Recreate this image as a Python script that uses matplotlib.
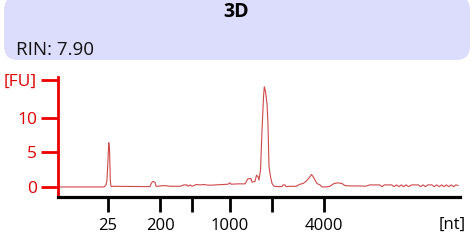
import matplotlib
matplotlib.use("Agg")
import matplotlib.pyplot as plt
from matplotlib.patches import FancyBboxPatch

plt.rcParams['font.family'] = ['Open Sans', 'DejaVu Sans']

title = "3D"
rin_text = "RIN: 7.90"

# migration time [s] and fluorescence [FU]
time = [19.0, 24.72, 24.97, 25.09, 25.22, 25.31, 25.41, 25.50, 25.59,
        30.44, 30.63, 30.82, 31.06, 31.19, 31.44, 31.69, 32.31, 32.93,
        33.55, 34.17, 34.67, 35.04, 35.17, 35.42, 35.67, 35.92, 36.16,
        36.66, 37.16, 37.41, 37.91, 38.65, 39.40, 40.14, 40.39, 40.52,
        41.39, 42.26, 42.63, 43.00, 43.13, 43.50, 43.69, 43.88, 44.00,
        44.19, 44.37, 44.56, 44.66, 44.81, 45.00, 45.12, 45.24, 45.43,
        45.62, 45.87, 46.36, 46.86, 46.99, 47.23, 47.36, 47.86, 48.60,
        49.10, 49.47, 49.85, 50.22, 50.53, 50.72, 50.97, 51.21, 51.59,
        51.84, 52.33, 52.83, 53.33, 53.83, 54.32, 54.70, 55.32, 56.56,
        57.18, 57.81, 59.0, 59.3, 59.6, 59.9, 60.5, 60.8, 61.1, 61.4,
        61.7, 62.0, 62.3, 62.6, 63.0, 63.3, 63.8, 64.1, 64.4, 64.7,
        65.0, 65.5, 65.8, 66.1, 66.4, 66.7, 67.0, 67.3, 67.6, 67.9,
        68.2, 68.5, 68.75]
fluor = [0.0, 0.0, 0.3, 1.0, 4.0, 6.4, 5.5, 1.0, 0.1,
         0.05, 0.6, 0.8, 0.7, 0.1, 0.1, 0.15, 0.2, 0.1,
         0.1, 0.1, 0.3, 0.3, 0.1, 0.3, 0.1, 0.2, 0.35,
         0.3, 0.35, 0.3, 0.25, 0.3, 0.35, 0.4, 0.6, 0.4,
         0.45, 0.45, 1.2, 1.2, 0.7, 0.8, 1.7, 1.5, 1.0,
         2.5, 8.0, 13.0, 14.5, 13.8, 12.0, 9.0, 3.0, 1.5,
         0.5, 0.1, 0.05, 0.05, 0.3, 0.3, 0.05, 0.1, 0.1,
         0.4, 0.5, 0.8, 1.3, 1.8, 1.5, 1.0, 0.5, 0.3,
         0.0, 0.0, 0.1, 0.5, 0.6, 0.5, 0.2, 0.15, 0.15,
         0.1, 0.3, 0.3, 0.05, 0.3, 0.3, 0.3, 0.05, 0.3, 0.05,
         0.3, 0.05, 0.3, 0.05, 0.3, 0.3, 0.3, 0.05, 0.3, 0.05,
         0.3, 0.3, 0.05, 0.3, 0.05, 0.3, 0.05, 0.3, 0.05, 0.3,
         0.05, 0.3, 0.2]

xtick_pos = [25.22, 31.69, 35.67, 40.39, 45.62, 52.08]
xtick_labels = ['25', '200', '', '1000', '', '4000']
ytick_pos = [0, 5, 10, 15.5]
ytick_labels = ['0', '5', '10', '[FU]']

W, H = 474, 243
fig = plt.figure(figsize=(W / 100, H / 100), dpi=100)

# header box, drawn in a pixel-space overlay
bg = fig.add_axes([0, 0, 1, 1], zorder=0)
bg.set_xlim(0, W)
bg.set_ylim(H, 0)
bg.axis('off')
box = FancyBboxPatch((4, -4), 466, 64,
                     boxstyle="round,pad=0,rounding_size=14",
                     facecolor='#dcdcfc', edgecolor='none')
bg.add_patch(box)
bg.text(236, 12, title, ha='center', va='center',
        fontsize=14, fontweight='bold', color='black')
bg.text(16, 50, rin_text, ha='left', va='center',
        fontsize=13.5, color='#111111')
bg.text(452, 225, '[nt]', ha='center', va='center',
        fontsize=12, color='black')

ax = fig.add_axes([58 / W, 1 - 197 / H, (460 - 58) / W, (197 - 77) / H],
                  zorder=1)
ax.patch.set_alpha(0)
ax.plot(time, fluor, color='#d04848', lw=0.8)
ax.set_xlim(19, 69)
ax.set_ylim(-1.45, 15.9)

for s in ['top', 'right']:
    ax.spines[s].set_visible(False)
ax.spines['left'].set_color('#ee0000')
ax.spines['left'].set_linewidth(2)
ax.spines['bottom'].set_color('black')
ax.spines['bottom'].set_linewidth(2.3)

ax.set_yticks(ytick_pos)
ax.set_yticklabels(ytick_labels)
ax.tick_params(axis='y', colors='#ee0000', labelcolor='#e00000', length=12,
               width=2, pad=3, labelsize=12.5, direction='out')
ax.set_xticks(xtick_pos)
ax.set_xticklabels(xtick_labels)
ax.tick_params(axis='x', colors='black', length=11, width=2, pad=4,
               labelsize=12, direction='out')

fig.savefig('out.png', dpi=100)
